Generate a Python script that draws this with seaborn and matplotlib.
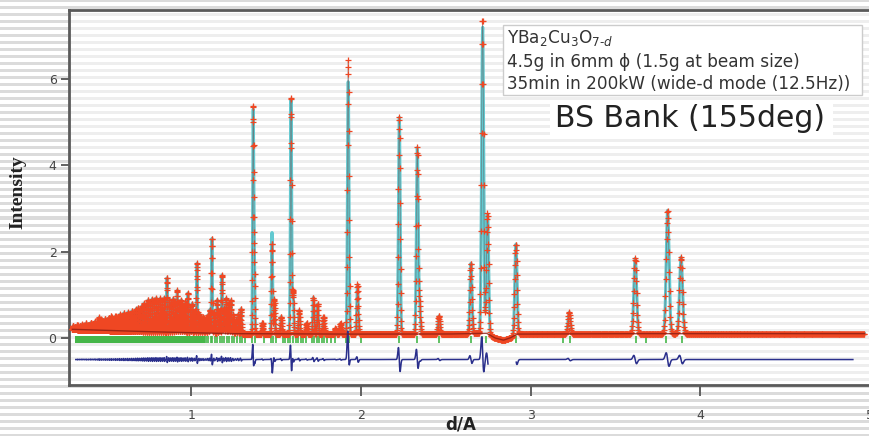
import numpy as np
import pandas as pd
import matplotlib
matplotlib.use("Agg")
import matplotlib.pyplot as plt
from matplotlib.patches import Rectangle
import seaborn as sns

# ---------------- data ----------------
# background level (d in Angstrom, intensity)
bg_d = [0.30, 0.46, 0.70, 0.93, 1.22, 1.80, 2.50, 2.74, 2.79, 2.84, 2.88, 2.92, 3.50, 4.50, 4.97]
bg_I = [0.20, 0.18, 0.15, 0.13, 0.10, 0.09, 0.09, 0.11, 0.00, -0.05, 0.00, 0.09, 0.10, 0.10, 0.10]

# dense short-d reflections (position, height above background)
low_d = [0.305, 0.318, 0.330, 0.343, 0.356, 0.369, 0.382, 0.395, 0.408, 0.421,
         0.434, 0.447, 0.458, 0.470, 0.482, 0.494, 0.506, 0.518, 0.530, 0.542,
         0.554, 0.566, 0.578, 0.590, 0.602, 0.614, 0.626, 0.638, 0.650, 0.662,
         0.674, 0.686, 0.698, 0.710, 0.722, 0.734, 0.746, 0.758, 0.770, 0.782,
         0.794, 0.806, 0.818, 0.830, 0.842, 0.857, 0.870, 0.882, 0.894, 0.906,
         0.918, 0.930, 0.942, 0.954, 0.966, 0.980, 0.994, 1.006, 1.020, 1.034,
         1.048, 1.060, 1.072, 1.085, 1.098, 1.110, 1.122, 1.136, 1.153, 1.167,
         1.181, 1.193, 1.206, 1.220, 1.234, 1.248, 1.263, 1.277, 1.293]
low_amp = [0.08, 0.06, 0.10, 0.08, 0.12, 0.10, 0.15, 0.12, 0.17, 0.14,
           0.20, 0.18, 0.30, 0.25, 0.22, 0.27, 0.24, 0.30, 0.33, 0.28,
           0.34, 0.31, 0.38, 0.35, 0.42, 0.38, 0.44, 0.40, 0.47, 0.44,
           0.52, 0.55, 0.50, 0.60, 0.66, 0.62, 0.74, 0.70, 0.77, 0.73,
           0.79, 0.72, 0.78, 0.74, 0.80, 1.26, 0.76, 0.70, 0.78, 0.72,
           0.98, 0.70, 0.76, 0.64, 0.72, 0.92, 0.60, 0.68, 0.50, 1.62,
           0.45, 0.35, 0.38, 0.30, 0.42, 0.55, 2.20, 0.50, 0.78, 0.55,
           1.36, 0.60, 0.82, 0.70, 0.78, 0.45, 0.32, 0.45, 0.58]

# main reflections: position, observed height, calculated height
main_d = [1.365, 1.372, 1.420, 1.476, 1.490, 1.530, 1.588, 1.600, 1.636, 1.680,
          1.720, 1.745, 1.780, 1.850, 1.880, 1.925, 1.980, 2.226, 2.332, 2.345,
          2.460, 2.648, 2.717, 2.746, 2.913, 3.227, 3.616, 3.807, 3.886]
main_obs = [5.20, 1.60, 0.25, 2.10, 0.80, 0.40, 5.50, 1.00, 0.55, 0.25,
            0.85, 0.70, 0.40, 0.13, 0.25, 6.35, 1.15, 5.05, 4.30, 0.70,
            0.42, 1.63, 7.30, 2.80, 2.10, 0.50, 1.75, 2.86, 1.78]
main_calc = [5.10, 1.60, 0.25, 2.35, 0.80, 0.40, 5.45, 1.00, 0.55, 0.25,
             0.85, 0.70, 0.40, 0.13, 0.25, 5.90, 1.15, 5.05, 4.30, 0.70,
             0.42, 1.63, 7.10, 2.80, 2.10, 0.50, 1.75, 2.86, 1.78]

# Bragg reflection markers (green)
refl_band = [0.316, 1.080]
refl_d = [1.09, 1.10, 1.115, 1.125, 1.14, 1.155, 1.17, 1.18, 1.195, 1.21, 1.225,
          1.24, 1.255, 1.27, 1.285, 1.30, 1.315, 1.36, 1.375, 1.43, 1.47, 1.485,
          1.50, 1.54, 1.555, 1.57, 1.585, 1.60, 1.615, 1.63, 1.645, 1.66, 1.675,
          1.71, 1.725, 1.74, 1.755, 1.77, 1.785, 1.80, 1.825, 1.85, 1.91, 1.93,
          2.00, 2.226, 2.33, 2.46, 2.65, 2.715, 2.74, 2.915, 3.19, 3.23, 3.62,
          3.68, 3.80, 3.89]

obs_range = [0.30, 4.97]
diff_ranges = [[0.32, 2.75], [2.915, 4.90]]
diff_offset = -0.5
rel_width = 0.0022        # peak sigma / d
lattice_shift = 0.0002    # relative d mismatch of the fit

x_ticks = [1, 2, 3, 4, 5]
y_ticks = [0, 2, 4, 6]

# ---------------- build profiles ----------------
step = 0.0006
n = int(np.log(obs_range[1] / obs_range[0]) / step) + 1
d = obs_range[0] * np.exp(np.arange(n) * step)
bg = np.interp(d, bg_d, bg_I)


def profile(centers, amps, shift=0.0):
    out = np.zeros_like(d)
    for c, a in zip(centers, amps):
        c2 = c * (1 + shift)
        s = rel_width * c
        out += a * np.exp(-0.5 * ((d - c2) / s) ** 2)
    return out


obs = bg + profile(low_d, low_amp) + profile(main_d, main_obs)
calc = bg + profile(low_d, low_amp, lattice_shift) + profile(main_d, main_calc, lattice_shift)
diff = obs - calc + diff_offset

df = pd.DataFrame({"d": d, "obs": obs, "calc": calc, "bg": bg, "diff": diff})

# ---------------- figure ----------------
W, H = 870, 436
fig = plt.figure(figsize=(W / 100, H / 100), dpi=100)

# striped page background
bgax = fig.add_axes([0, 0, 1, 1], zorder=-5)
rows = np.arange(H)
stripe = np.where((rows % 7) < 3, 0.86, 1.0)
bgax.imshow(np.repeat(stripe[:, None], 3, axis=1)[:, :, None].repeat(3, axis=2),
            aspect="auto", interpolation="nearest", extent=[0, 1, 0, 1])
bgax.set_axis_off()

ax = fig.add_axes([69 / W, 1 - 385 / H, 1 - 69 / W, (385 - 10) / H])
ax.set_facecolor((1, 1, 1, 0.55))

# green reflection markers
ax.fill_between(refl_band, -0.12, 0.05, color="#45b649", lw=0, zorder=1)
ax.vlines(refl_d, -0.12, 0.05, color="#45b649", lw=1.2, zorder=1)

# calculated profile (cyan) and observed line
sns.lineplot(data=df, x="d", y="calc", ax=ax, estimator=None, sort=False,
             color="#62c9d0", lw=2.2, zorder=2)
sns.lineplot(data=df, x="d", y="obs", ax=ax, estimator=None, sort=False,
             color="#6a5050", lw=0.5, alpha=0.6, zorder=2)
# observed points
sns.scatterplot(data=df, x="d", y="obs", ax=ax, marker="+", s=15,
                color="#ef4723", linewidth=0.9, zorder=3)
# background curve
sns.lineplot(data=df, x="d", y="bg", ax=ax, estimator=None, sort=False,
             color="#8a1c12", lw=1.0, alpha=0.8, zorder=4)
# difference curve
for lo, hi in diff_ranges:
    seg = df[(df["d"] >= lo) & (df["d"] <= hi)]
    sns.lineplot(data=seg, x="d", y="diff", ax=ax, estimator=None, sort=False,
                 color="#2a2f8c", lw=1.1, zorder=3)

ax.set_xlim(0.28, 5.0)
ax.set_ylim(-1.09, 7.6)
ax.set_xticks(x_ticks)
ax.set_xticklabels([str(v) for v in x_ticks])
ax.set_yticks(y_ticks)
ax.set_yticklabels([str(v) for v in y_ticks])
ax.tick_params(axis="x", direction="out", length=8, width=1.3, color="#555555",
               pad=9, labelsize=9, labelcolor="#444444")
ax.tick_params(axis="y", direction="out", length=6, width=1.3, color="#555555",
               pad=3, labelsize=9, labelcolor="#444444")
for side in ["left", "bottom", "top"]:
    ax.spines[side].set_color("#5a5a5a")
    ax.spines[side].set_linewidth(2.0)
ax.spines["right"].set_visible(False)
ax.set_xlabel("")
ax.set_ylabel("")
if ax.get_legend():
    ax.get_legend().remove()

fig.text(18 / W, 1 - 192 / H, "Intensity", rotation=90, ha="center", va="center",
         family="Liberation Serif", fontweight="bold", fontsize=14, color="#222222")
fig.text(461 / W, 1 - 424 / H, "d/A", ha="center", va="center",
         family="DejaVu Sans", fontweight="bold", fontsize=12, color="#222222")

# annotation box
fig.add_artist(Rectangle((503 / W, 1 - 95 / H), (862 - 503) / W, 70 / H,
                         transform=fig.transFigure, facecolor="white",
                         edgecolor="#cccccc", lw=1.0, zorder=10))
tkw = dict(ha="left", va="center", fontsize=12.2, color="#333333",
           family="DejaVu Sans", zorder=11)
fig.text(507 / W, 1 - 38 / H, r"YBa$_2$Cu$_3$O$_{7\text{-}d}$", **tkw)
fig.text(507 / W, 1 - 62 / H, "4.5g in 6mm \u03d5 (1.5g at beam size)", **tkw)
fig.text(507 / W, 1 - 84 / H, "35min in 200kW (wide-d mode (12.5Hz))", **tkw)

fig.add_artist(Rectangle((550 / W, 1 - 137 / H), (833 - 550) / W, 37 / H,
                         transform=fig.transFigure, facecolor="white",
                         edgecolor="none", zorder=10))
fig.text(690 / W, 1 - 118 / H, "BS Bank (155deg)", ha="center", va="center",
         fontsize=21.5, color="#222222", family="DejaVu Sans", zorder=11)

fig.savefig("out.png", dpi=100)
